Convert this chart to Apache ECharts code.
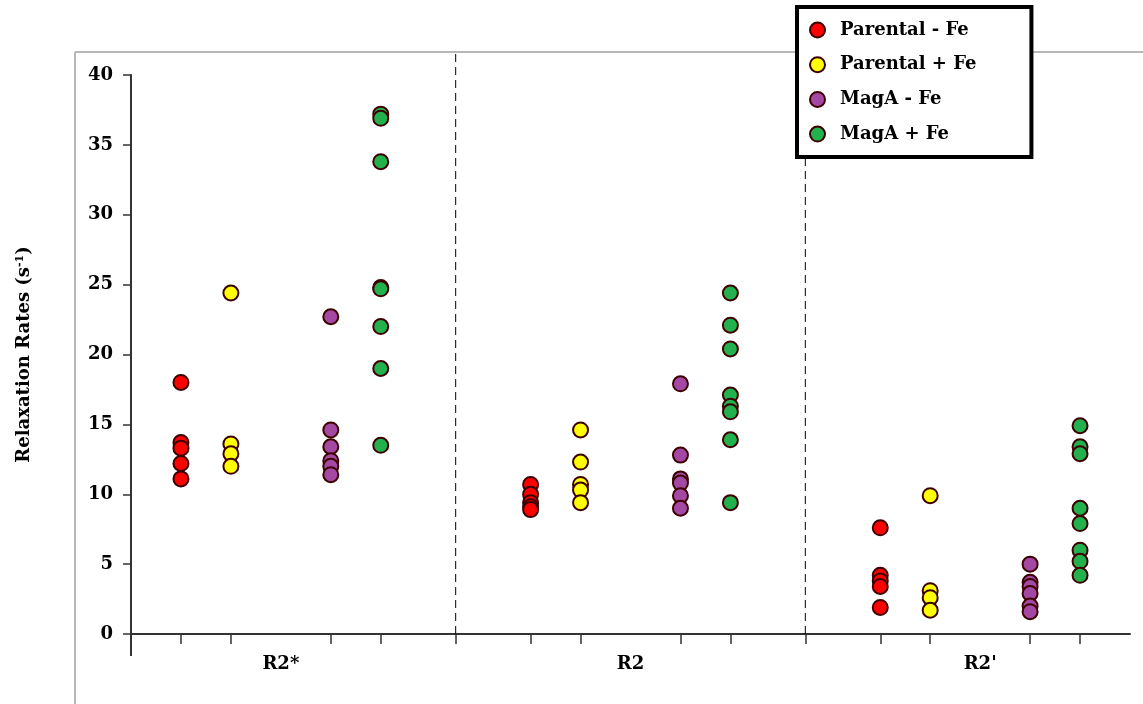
<!DOCTYPE html>
<html>
<head>
<meta charset="utf-8">
<script src="https://cdn.jsdelivr.net/npm/echarts@6/dist/echarts.min.js"></script>
<style>
html,body{margin:0;padding:0;background:#fff;}
#chart{width:1143px;height:704px;}
</style>
</head>
<body>
<div id="chart"></div>
<script>
// ---- data ----
const groups = ['R2*', 'R2', "R2'"];
const groupCenters = [3, 10, 17];
const seriesNames = ['Parental - Fe', 'Parental + Fe', 'MagA - Fe', 'MagA + Fe'];
// x position of each series within the three groups
const posParentalMinus = [1, 8, 15];
const posParentalPlus = [2, 9, 16];
const posMagAMinus = [4, 11, 18];
const posMagAPlus = [5, 12, 19];
const separators = [6.5, 13.5];
// values per group: [R2*, R2, R2']
const parentalMinusFe = [
  [18.0, 13.7, 13.3, 12.2, 11.1],
  [10.7, 10.0, 9.4, 9.1, 8.9],
  [7.6, 4.2, 3.8, 3.4, 1.9]
];
const parentalPlusFe = [
  [24.4, 13.6, 12.9, 12.0],
  [14.6, 12.3, 10.7, 10.3, 9.4],
  [9.9, 3.1, 2.6, 1.7]
];
const magAMinusFe = [
  [22.7, 14.6, 13.4, 12.4, 12.0, 11.4],
  [17.9, 12.8, 11.1, 10.8, 9.9, 9.0],
  [5.0, 3.7, 3.4, 2.9, 2.0, 1.6]
];
const magAPlusFe = [
  [37.2, 36.9, 33.8, 24.8, 24.7, 22.0, 19.0, 13.5],
  [24.4, 22.1, 20.4, 17.1, 16.3, 15.9, 13.9, 9.4],
  [14.9, 13.4, 12.9, 9.0, 7.9, 6.0, 5.2, 4.2]
];
const yTicks = [0, 5, 10, 15, 20, 25, 30, 35, 40];

// ---- build ----
const colors = ['#FF0000', '#FFFF00', '#A349A4', '#22B14C'];
function pts(pos, vals) {
  const out = [];
  vals.forEach((g, gi) => g.forEach(v => out.push([pos[gi], v])));
  return out;
}
const seriesData = [
  pts(posParentalMinus, parentalMinusFe),
  pts(posParentalPlus, parentalPlusFe),
  pts(posMagAMinus, magAMinusFe),
  pts(posMagAPlus, magAPlusFe)
];
const xMax = 20;
const slots = [];
for (let i = 0; i <= xMax * 2; i++) slots.push(String(i / 2));
const tickPositions = [].concat(posParentalMinus, posParentalPlus, posMagAMinus, posMagAPlus, separators);
const tickSlots = new Set(tickPositions.map(p => Math.round(p * 2)));
const labelSlots = {};
groupCenters.forEach((c, i) => { labelSlots[Math.round(c * 2)] = groups[i]; });

const serif = '"DejaVu Serif", "Liberation Serif", serif';
const axisColor = '#333333';
const yTop = yTicks[yTicks.length - 1];

const chart = echarts.init(document.getElementById('chart'), null, {renderer: 'canvas'});
const option = {
  animation: false,
  backgroundColor: '#ffffff',
  grid: {left: 131, right: 13, top: 75, bottom: 70, containLabel: false},
  graphic: [
    {type: 'line', shape: {x1: 75, y1: 52, x2: 1143, y2: 52}, style: {stroke: '#b8b8b8', lineWidth: 2}, z: -1},
    {type: 'line', shape: {x1: 75, y1: 52, x2: 75, y2: 704}, style: {stroke: '#b8b8b8', lineWidth: 2}, z: -1}
  ],
  legend: {
    data: seriesNames,
    orient: 'vertical',
    left: 797,
    top: 7,
    padding: [14, 55, 14, 12],
    itemGap: 16.7,
    itemWidth: 15,
    itemHeight: 15,
    icon: 'circle',
    borderColor: '#000',
    borderWidth: 4,
    backgroundColor: '#fff',
    z: 10,
    textStyle: {fontFamily: serif, fontWeight: 'bold', fontSize: 18, color: '#000', padding: [0, 0, 0, 10]}
  },
  xAxis: [
    {type: 'value', min: 0, max: xMax, show: false},
    {
      type: 'category', data: slots, boundaryGap: false, position: 'bottom',
      axisLine: {show: true, lineStyle: {color: axisColor, width: 2}},
      axisTick: {show: true, length: 10, interval: (i) => tickSlots.has(i), lineStyle: {color: axisColor, width: 1.5}},
      axisLabel: {
        interval: (i) => labelSlots[i] !== undefined,
        formatter: (v, i) => labelSlots[i] || '',
        fontFamily: serif, fontWeight: 'bold', fontSize: 18, color: '#000', margin: 21
      },
      splitLine: {show: false}
    }
  ],
  yAxis: {
    type: 'value', min: yTicks[0], max: yTop, interval: 5,
    name: 'Relaxation Rates (s{sup|-1})',
    nameLocation: 'middle', nameRotate: 90, nameGap: 97,
    nameTextStyle: {
      fontFamily: serif, fontWeight: 'bold', fontSize: 18, color: '#000',
      rich: {sup: {fontFamily: serif, fontWeight: 'bold', fontSize: 11, color: '#000', verticalAlign: 'top', padding: [0, 0, 8, 0]}}
    },
    axisLine: {show: true, lineStyle: {color: axisColor, width: 2}},
    axisTick: {show: true, length: 8, lineStyle: {color: axisColor, width: 1.5}},
    axisLabel: {fontFamily: serif, fontWeight: 'bold', fontSize: 18, color: '#000', margin: 18},
    splitLine: {show: false}
  },
  series: [
    {
      type: 'custom', xAxisIndex: 0, silent: true, z: 1,
      data: separators.map(s => [s]),
      renderItem: (params, api) => {
        const p0 = api.coord([api.value(0), 0]);
        const p1 = api.coord([api.value(0), yTop]);
        return {type: 'line', shape: {x1: p0[0], y1: p0[1], x2: p1[0], y2: p1[1] - 23},
          style: {stroke: '#000', lineWidth: 1, lineDash: [8, 5]}};
      }
    },
    {
      type: 'custom', xAxisIndex: 0, silent: true, z: 1,
      data: [[0]],
      renderItem: (params, api) => {
        const p0 = api.coord([api.value(0), 0]);
        return {type: 'line', shape: {x1: p0[0], y1: p0[1], x2: p0[0], y2: p0[1] + 22},
          style: {stroke: axisColor, lineWidth: 2}};
      }
    }
  ].concat(seriesNames.map((n, i) => ({
    name: n, type: 'scatter', xAxisIndex: 0, symbol: 'circle', symbolSize: 15, z: 3,
    itemStyle: {color: colors[i], borderColor: '#3d0000', borderWidth: 2, opacity: 1},
    data: seriesData[i]
  })))
};
chart.setOption(option);
</script>
</body>
</html>
